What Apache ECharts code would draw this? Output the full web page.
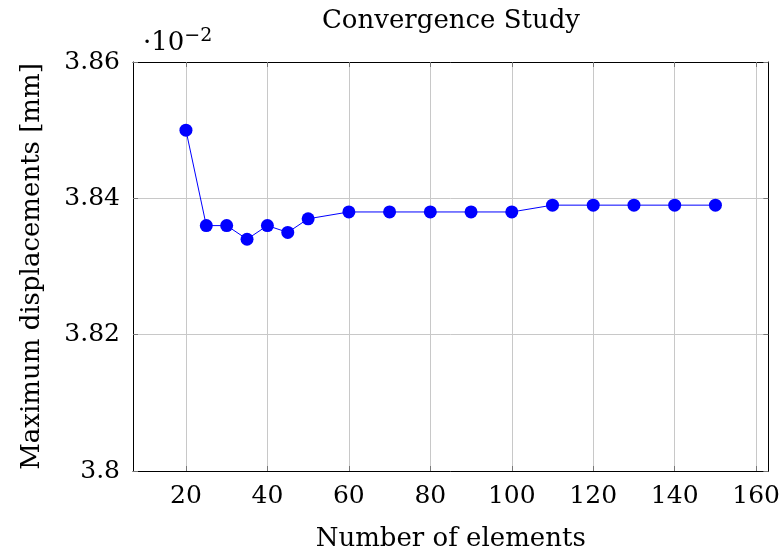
<!DOCTYPE html>
<html>
<head>
<meta charset="utf-8">
<script src="https://cdn.jsdelivr.net/npm/echarts@6/dist/echarts.min.js"></script>
<style>
  html, body { margin: 0; padding: 0; background: #fff; }
  #chart { width: 783px; height: 557px; }
</style>
</head>
<body>
<div id="chart"></div>
<script>
// Mesh refinement: element count vs. maximum displacement (in units of 1e-2 mm)
const elementCounts = [20, 25, 30, 35, 40, 45, 50, 60, 70, 80, 90, 100, 110, 120, 130, 140, 150];
const maxDisplacement = [3.850, 3.836, 3.836, 3.834, 3.836, 3.835, 3.837, 3.838, 3.838, 3.838, 3.838, 3.838, 3.839, 3.839, 3.839, 3.839, 3.839];
const xTicks = [20, 40, 60, 80, 100, 120, 140, 160];
const yTicks = [3.8, 3.82, 3.84, 3.86];

const FONT = '"DejaVu Serif", "Liberation Serif", serif';
const chart = echarts.init(document.getElementById('chart'), null, { renderer: 'canvas' });

const gridBox = { left: 133, right: 14, top: 62, bottom: 84 };
const plotCenterX = gridBox.left + (783 - gridBox.left - gridBox.right) / 2;

const baseX = { type: 'value', min: 7, max: 163, gridIndex: 0 };
const baseY = { type: 'value', min: yTicks[0], max: yTicks[yTicks.length - 1], interval: 0.02, gridIndex: 0 };

chart.setOption({
  animation: false,
  backgroundColor: '#fff',
  grid: Object.assign({ containLabel: false }, gridBox),
  graphic: [
    {
      type: 'text', x: plotCenterX, y: 8,
      style: { text: 'Convergence Study', font: '26px ' + FONT, fill: '#000', align: 'center', textAlign: 'center' }
    },
    {
      type: 'text', x: 143, y: 27,
      style: {
        text: '{a|\u00b710}{b|\u22122}',
        rich: {
          a: { font: '26px ' + FONT, fill: '#000' },
          b: { font: '19px ' + FONT, fill: '#000', verticalAlign: 'top', padding: [0, 0, 14, 0] }
        }
      }
    }
  ],
  xAxis: [
    Object.assign({}, baseX, {
      position: 'bottom',
      name: 'Number of elements',
      nameLocation: 'middle',
      nameGap: 55,
      nameTextStyle: { fontFamily: FONT, fontSize: 26, color: '#000' },
      axisLine: { show: true, onZero: false, lineStyle: { color: '#000', width: 1 } },
      axisTick: { show: true, inside: true, length: 5, customValues: xTicks, lineStyle: { color: '#777' } },
      axisLabel: { show: true, customValues: xTicks, margin: 13, fontFamily: FONT, fontSize: 25, color: '#000' },
      splitLine: { show: true, lineStyle: { color: '#c8c8c8', width: 1 } }
    }),
    Object.assign({}, baseX, {
      position: 'top',
      axisLine: { show: true, onZero: false, lineStyle: { color: '#000', width: 1 } },
      axisTick: { show: true, inside: true, length: 5, customValues: xTicks, lineStyle: { color: '#777' } },
      axisLabel: { show: false },
      splitLine: { show: false }
    })
  ],
  yAxis: [
    Object.assign({}, baseY, {
      position: 'left',
      name: 'Maximum displacements [mm]',
      nameLocation: 'middle',
      nameGap: 88,
      nameTextStyle: { fontFamily: FONT, fontSize: 26, color: '#000' },
      axisLine: { show: true, onZero: false, lineStyle: { color: '#000', width: 1 } },
      axisTick: { show: true, inside: true, length: 5, lineStyle: { color: '#777' } },
      axisLabel: { show: true, margin: 13, fontFamily: FONT, fontSize: 25, color: '#000',
        formatter: v => String(+v.toFixed(2)) },
      splitLine: { show: true, lineStyle: { color: '#c8c8c8', width: 1 } }
    }),
    Object.assign({}, baseY, {
      position: 'right',
      axisLine: { show: true, onZero: false, lineStyle: { color: '#000', width: 1 } },
      axisTick: { show: true, inside: true, length: 5, lineStyle: { color: '#777' } },
      axisLabel: { show: false },
      splitLine: { show: false }
    })
  ],
  series: [
    {
      type: 'line',
      xAxisIndex: 0,
      yAxisIndex: 0,
      data: elementCounts.map((n, i) => [n, maxDisplacement[i]]),
      symbol: 'circle',
      symbolSize: 13,
      lineStyle: { color: '#0000ff', width: 1 },
      itemStyle: { color: '#0000ff' },
      z: 5
    }
  ]
});
</script>
</body>
</html>
